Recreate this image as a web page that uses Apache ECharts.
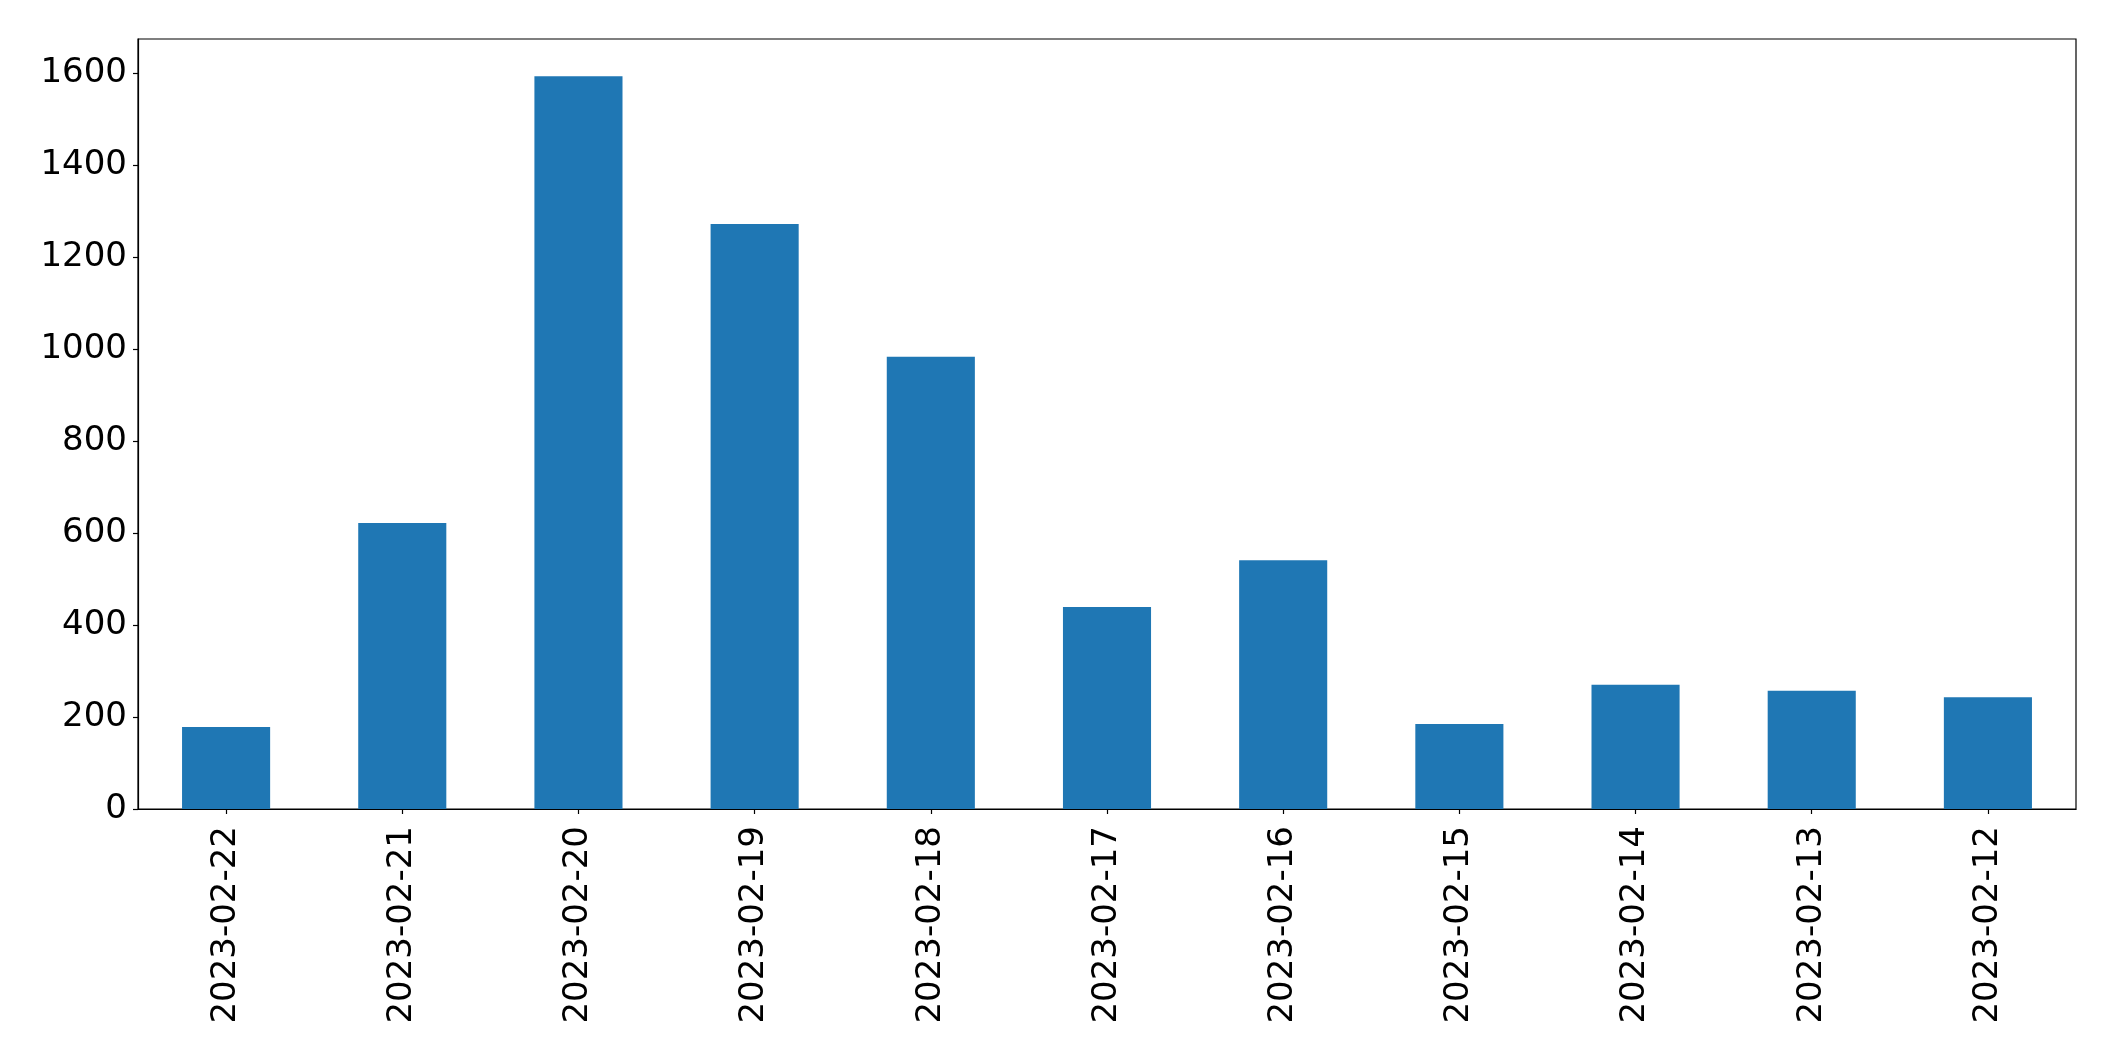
<!DOCTYPE html>
<html>
<head>
<meta charset="utf-8">
<script src="https://cdn.jsdelivr.net/npm/echarts@6/dist/echarts.min.js"></script>
<style>
html,body{margin:0;padding:0;background:#fff;}
#chart{width:2115px;height:1061px;}
</style>
</head>
<body>
<div id="chart"></div>
<script>
const categories = ["2023-02-22","2023-02-21","2023-02-20","2023-02-19","2023-02-18","2023-02-17","2023-02-16","2023-02-15","2023-02-14","2023-02-13","2023-02-12"];
const values = [178, 622, 1593, 1272, 983, 439, 541, 185, 270, 257, 243];
const yMax = 1674;
const yInterval = 200;

const chart = echarts.init(document.getElementById('chart'), null, {renderer: 'canvas'});
const font = 'DejaVu Sans';
chart.setOption({
  animation: false,
  backgroundColor: '#ffffff',
  grid: {left: 138, top: 39, right: 39, bottom: 252, show: true, borderColor: '#000', borderWidth: 1.2, backgroundColor: 'transparent'},
  xAxis: {
    type: 'category',
    data: categories,
    boundaryGap: true,
    axisLine: {show: true, lineStyle: {color: '#000', width: 1.2}},
    axisTick: {show: true, alignWithLabel: true, length: 5, lineStyle: {color: '#000', width: 1.2}},
    axisLabel: {rotate: 90, fontSize: 34, fontFamily: font, color: '#000', margin: 17, interval: 0},
    splitLine: {show: false}
  },
  yAxis: {
    type: 'value',
    min: 0,
    max: yMax,
    interval: yInterval,
    axisLine: {show: true, lineStyle: {color: '#000', width: 1.2}},
    axisTick: {show: true, length: 5, lineStyle: {color: '#000', width: 1.2}},
    axisLabel: {fontSize: 34, fontFamily: font, color: '#000', margin: 11, showMaxLabel: false,
      formatter: function (v) { return String(v); }},
    splitLine: {show: false}
  },
  series: [{
    type: 'bar',
    data: values,
    barWidth: '50%',
    itemStyle: {color: '#1f77b4'}
  }]
});
</script>
</body>
</html>
